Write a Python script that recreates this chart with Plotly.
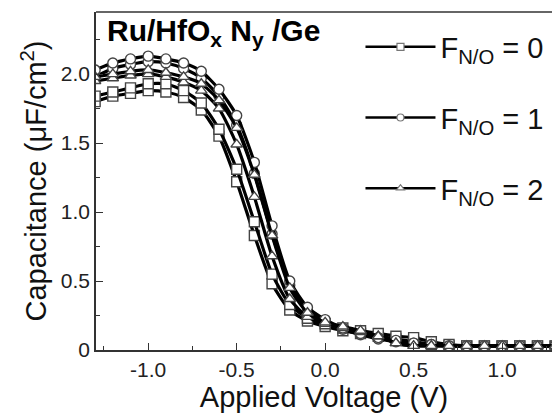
import plotly.graph_objects as go

# Applied voltage (V), one point every 0.1 V
voltage = [-1.3, -1.2, -1.1, -1.0, -0.9, -0.8, -0.7, -0.6, -0.5, -0.4, -0.3, -0.2, -0.1,
           0.0, 0.1, 0.2, 0.3, 0.4, 0.5, 0.6, 0.7, 0.8, 0.9, 1.0, 1.1, 1.2, 1.3]

# Capacitance (uF/cm^2), two measured curves per F_N/O
f0_a = [1.84, 1.87, 1.90, 1.93, 1.93, 1.88, 1.79, 1.60, 1.31, 0.93, 0.55, 0.33, 0.23,
        0.19, 0.16, 0.14, 0.12, 0.10, 0.09, 0.06, 0.04, 0.03, 0.03, 0.03, 0.03, 0.03, 0.03]
f0_b = [1.80, 1.84, 1.86, 1.88, 1.87, 1.83, 1.74, 1.55, 1.22, 0.83, 0.48, 0.29, 0.21,
        0.17, 0.14, 0.12, 0.10, 0.08, 0.06, 0.04, 0.03, 0.03, 0.03, 0.03, 0.03, 0.03, 0.03]
f1_a = [2.03, 2.08, 2.11, 2.13, 2.11, 2.08, 2.02, 1.89, 1.70, 1.36, 0.90, 0.50, 0.31,
        0.22, 0.16, 0.12, 0.09, 0.07, 0.05, 0.04, 0.03, 0.03, 0.03, 0.03, 0.03, 0.03, 0.03]
f1_b = [1.98, 2.04, 2.07, 2.09, 2.08, 2.04, 1.97, 1.84, 1.63, 1.28, 0.84, 0.47, 0.29,
        0.21, 0.15, 0.11, 0.08, 0.06, 0.05, 0.04, 0.03, 0.03, 0.03, 0.03, 0.03, 0.03, 0.03]
f2_a = [1.98, 2.00, 2.02, 2.03, 2.01, 1.98, 1.93, 1.81, 1.61, 1.27, 0.83, 0.45, 0.27,
        0.20, 0.17, 0.14, 0.10, 0.05, 0.03, 0.03, 0.03, 0.03, 0.03, 0.03, 0.03, 0.03, 0.03]
f2_b = [1.95, 1.97, 1.99, 2.00, 1.98, 1.94, 1.88, 1.75, 1.49, 1.11, 0.68, 0.37, 0.24,
        0.19, 0.16, 0.13, 0.10, 0.05, 0.03, 0.03, 0.03, 0.03, 0.03, 0.03, 0.03, 0.03, 0.03]

legend_names = ["F<sub>N/O</sub> = 0", "F<sub>N/O</sub> = 1", "F<sub>N/O</sub> = 2"]
x_tickvals = [-1.0, -0.5, 0.0, 0.5, 1.0]
x_ticktext = ["-1.0", "-0.5", "0.0", "0.5", "1.0"]
y_tickvals = [0, 0.5, 1.0, 1.5, 2.0]
y_ticktext = ["0", "0.5", "1.0", "1.5", "2.0"]

FONT = "Liberation Sans, Arial, sans-serif"
symbols = ["square", "circle", "triangle-up"]
series = [(f0_a, f0_b), (f1_a, f1_b), (f2_a, f2_b)]

fig = go.Figure()
for i, (ya, yb) in enumerate(series):
    for y in (yb, ya):
        fig.add_trace(go.Scatter(
            x=voltage, y=y, mode="lines+markers", showlegend=False,
            line=dict(color="black", width=3.2, shape="spline", smoothing=0.6),
            marker=dict(symbol=symbols[i], size=10,
                        color="white", line=dict(color="#444", width=1.4)),
        ))
# legend-only entries
for i in range(3):
    fig.add_trace(go.Scatter(
        x=[None], y=[None], mode="lines+markers", name=legend_names[i],
        legendgroup=f"g{i}",
        line=dict(color="black", width=2.5),
        marker=dict(symbol=symbols[i], size=7,
                    color="white", line=dict(color="#777", width=1.2)),
    ))

fig.add_annotation(
    text="<b>Ru/HfO<sub>x</sub> N<sub>y</sub> /Ge</b>", xref="paper", yref="paper",
    x=0.02, y=1.0, xanchor="left", yanchor="top", showarrow=False,
    font=dict(family=FONT, size=30, color="black"),
)
fig.add_shape(type="line", xref="paper", yref="paper", x0=0, x1=1, y0=1, y1=1,
              line=dict(color="#333", width=1.5))

fig.update_layout(
    width=552, height=416,
    margin=dict(l=96, r=0, t=12, b=66),
    paper_bgcolor="white", plot_bgcolor="white",
    font=dict(family=FONT, color="#111"),
    legend=dict(x=0.58, y=0.972, xanchor="left", yanchor="top",
                font=dict(family=FONT, size=29, color="#111"),
                bgcolor="rgba(0,0,0,0)", itemwidth=70, tracegroupgap=30,
                traceorder="grouped"),
    xaxis=dict(range=[-1.295, 1.282], showgrid=False, zeroline=False,
               showline=True, linecolor="#333", linewidth=1.5,
               tickmode="array", tickvals=x_tickvals, ticktext=x_ticktext,
               ticks="inside", ticklen=7, tickwidth=1.3, tickcolor="#333",
               minor=dict(dtick=0.25, tick0=-1.25, ticks="inside", ticklen=4,
                          tickwidth=1.3, tickcolor="#333"),
               tickfont=dict(family=FONT, size=21, color="#222"),
               title=dict(text="Applied Voltage (V)",
                          font=dict(family=FONT, size=29, color="#111"), standoff=6)),
    yaxis=dict(range=[0, 2.45], showgrid=False, zeroline=False,
               showline=True, linecolor="#333", linewidth=1.5,
               tickmode="array", tickvals=y_tickvals, ticktext=y_ticktext,
               ticks="inside", ticklen=7, tickwidth=1.3, tickcolor="#333",
               minor=dict(dtick=0.25, tick0=0.25, ticks="inside", ticklen=4,
                          tickwidth=1.3, tickcolor="#333"),
               tickfont=dict(family=FONT, size=21, color="#222"),
               title=dict(text="Capacitance (\u03bcF/cm<sup>2</sup>)",
                          font=dict(family=FONT, size=29, color="#111"), standoff=6)),
)

fig.write_html("out.html")
